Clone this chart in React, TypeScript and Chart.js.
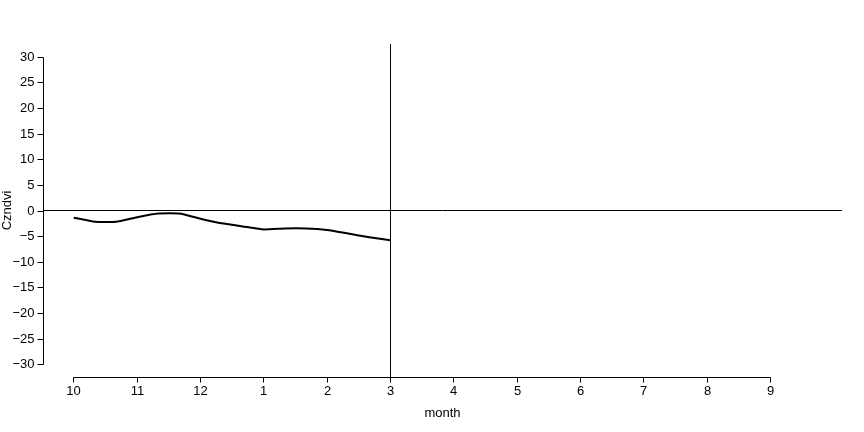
import React, { useEffect, useRef } from "react";
import { Chart, registerables } from "chart.js";

Chart.register(...registerables);

const monthLabels = ["10", "11", "12", "1", "2", "3", "4", "5", "6", "7", "8", "9"];
// dekad positions (in months from October)
const xPositions = [0, 1 / 3, 2 / 3, 1, 4 / 3, 5 / 3, 2, 7 / 3, 8 / 3, 3, 10 / 3, 11 / 3, 4, 13 / 3, 14 / 3, 5];
const czndvi = [-1.4, -2.2, -2.2, -1.3, -0.6, -0.6, -1.6, -2.5, -3.1, -3.7, -3.5, -3.5, -3.8, -4.5, -5.2, -5.8];
const yTicks = [30, 25, 20, 15, 10, 5, 0, -5, -10, -15, -20, -25, -30];
const markerMonth = 5;

const X_MIN = -0.4854;
const X_MAX = 12.127;
const Y_MIN = -32.44;
const Y_MAX = 32.44;

const FONT = "13px 'Liberation Sans', Arial, sans-serif";

const axesPlugin = {
  id: "rAxes",
  afterDraw(chart: any) {
    const { ctx, chartArea } = chart;
    const xs = chart.scales.x;
    const ys = chart.scales.y;
    ctx.save();
    ctx.strokeStyle = "#000";
    ctx.fillStyle = "#000";
    ctx.lineWidth = 1;
    ctx.font = FONT;

    // y axis
    const yAxisX = Math.round(chartArea.left) + 0.5;
    ctx.beginPath();
    ctx.moveTo(yAxisX, Math.round(ys.getPixelForValue(yTicks[0])) + 0.5);
    ctx.lineTo(yAxisX, Math.round(ys.getPixelForValue(yTicks[yTicks.length - 1])) + 0.5);
    ctx.stroke();
    ctx.textAlign = "right";
    ctx.textBaseline = "middle";
    yTicks.forEach((t) => {
      const py = Math.round(ys.getPixelForValue(t)) + 0.5;
      ctx.beginPath();
      ctx.moveTo(yAxisX, py);
      ctx.lineTo(yAxisX - 6, py);
      ctx.stroke();
      ctx.fillText(t < 0 ? "\u2212" + Math.abs(t) : String(t), yAxisX - 9, py);
    });

    // x axis
    const xAxisY = Math.round(chartArea.bottom) + 0.5;
    ctx.beginPath();
    ctx.moveTo(Math.floor(xs.getPixelForValue(0)) + 0.5, xAxisY);
    ctx.lineTo(Math.floor(xs.getPixelForValue(monthLabels.length - 1)) + 0.5, xAxisY);
    ctx.stroke();
    ctx.textAlign = "center";
    ctx.textBaseline = "top";
    monthLabels.forEach((lab, i) => {
      const px = Math.floor(xs.getPixelForValue(i)) + 0.5;
      ctx.beginPath();
      ctx.moveTo(px, xAxisY);
      ctx.lineTo(px, xAxisY + 5);
      ctx.stroke();
      ctx.fillText(lab, px, xAxisY + 7);
    });

    // axis titles
    const midX = (chartArea.left + chartArea.right) / 2;
    ctx.textBaseline = "middle";
    ctx.fillText("month", midX, 413);
    const midY = (chartArea.top + chartArea.bottom) / 2;
    ctx.translate(7, midY);
    ctx.rotate(-Math.PI / 2);
    ctx.fillText("Czndvi", 0, 0);
    ctx.restore();
  },
};

export default function App() {
  const ref = useRef<HTMLCanvasElement | null>(null);
  useEffect(() => {
    if (!ref.current) return;
    const chart = new Chart(ref.current, {
      type: "line",
      data: {
        datasets: [
          {
            data: xPositions.map((x, i) => ({ x, y: czndvi[i] })),
            borderColor: "#000",
            borderWidth: 2,
            pointRadius: 0,
            tension: 0.15,
            fill: false,
          },
          {
            data: [
              { x: X_MIN, y: 0 },
              { x: X_MAX, y: 0 },
            ],
            borderColor: "#000",
            borderWidth: 1,
            pointRadius: 0,
            fill: false,
          },
          {
            data: [
              { x: markerMonth, y: Y_MIN },
              { x: markerMonth, y: Y_MAX },
            ],
            borderColor: "#000",
            borderWidth: 1,
            pointRadius: 0,
            fill: false,
          },
        ],
      },
      options: {
        animation: false,
        responsive: true,
        maintainAspectRatio: false,
        layout: { padding: { left: 43, right: 22, top: 44, bottom: 55 } },
        plugins: { legend: { display: false }, tooltip: { enabled: false } },
        scales: {
          x: { type: "linear", min: X_MIN, max: X_MAX, display: false },
          y: { type: "linear", min: Y_MIN, max: Y_MAX, display: false },
        },
      },
      plugins: [axesPlugin],
    });
    return () => chart.destroy();
  }, []);
  return (
    <div style={{ position: "fixed", left: 0, top: 0, width: 864, height: 432, background: "#fff" }}>
      <canvas ref={ref} />
    </div>
  );
}
